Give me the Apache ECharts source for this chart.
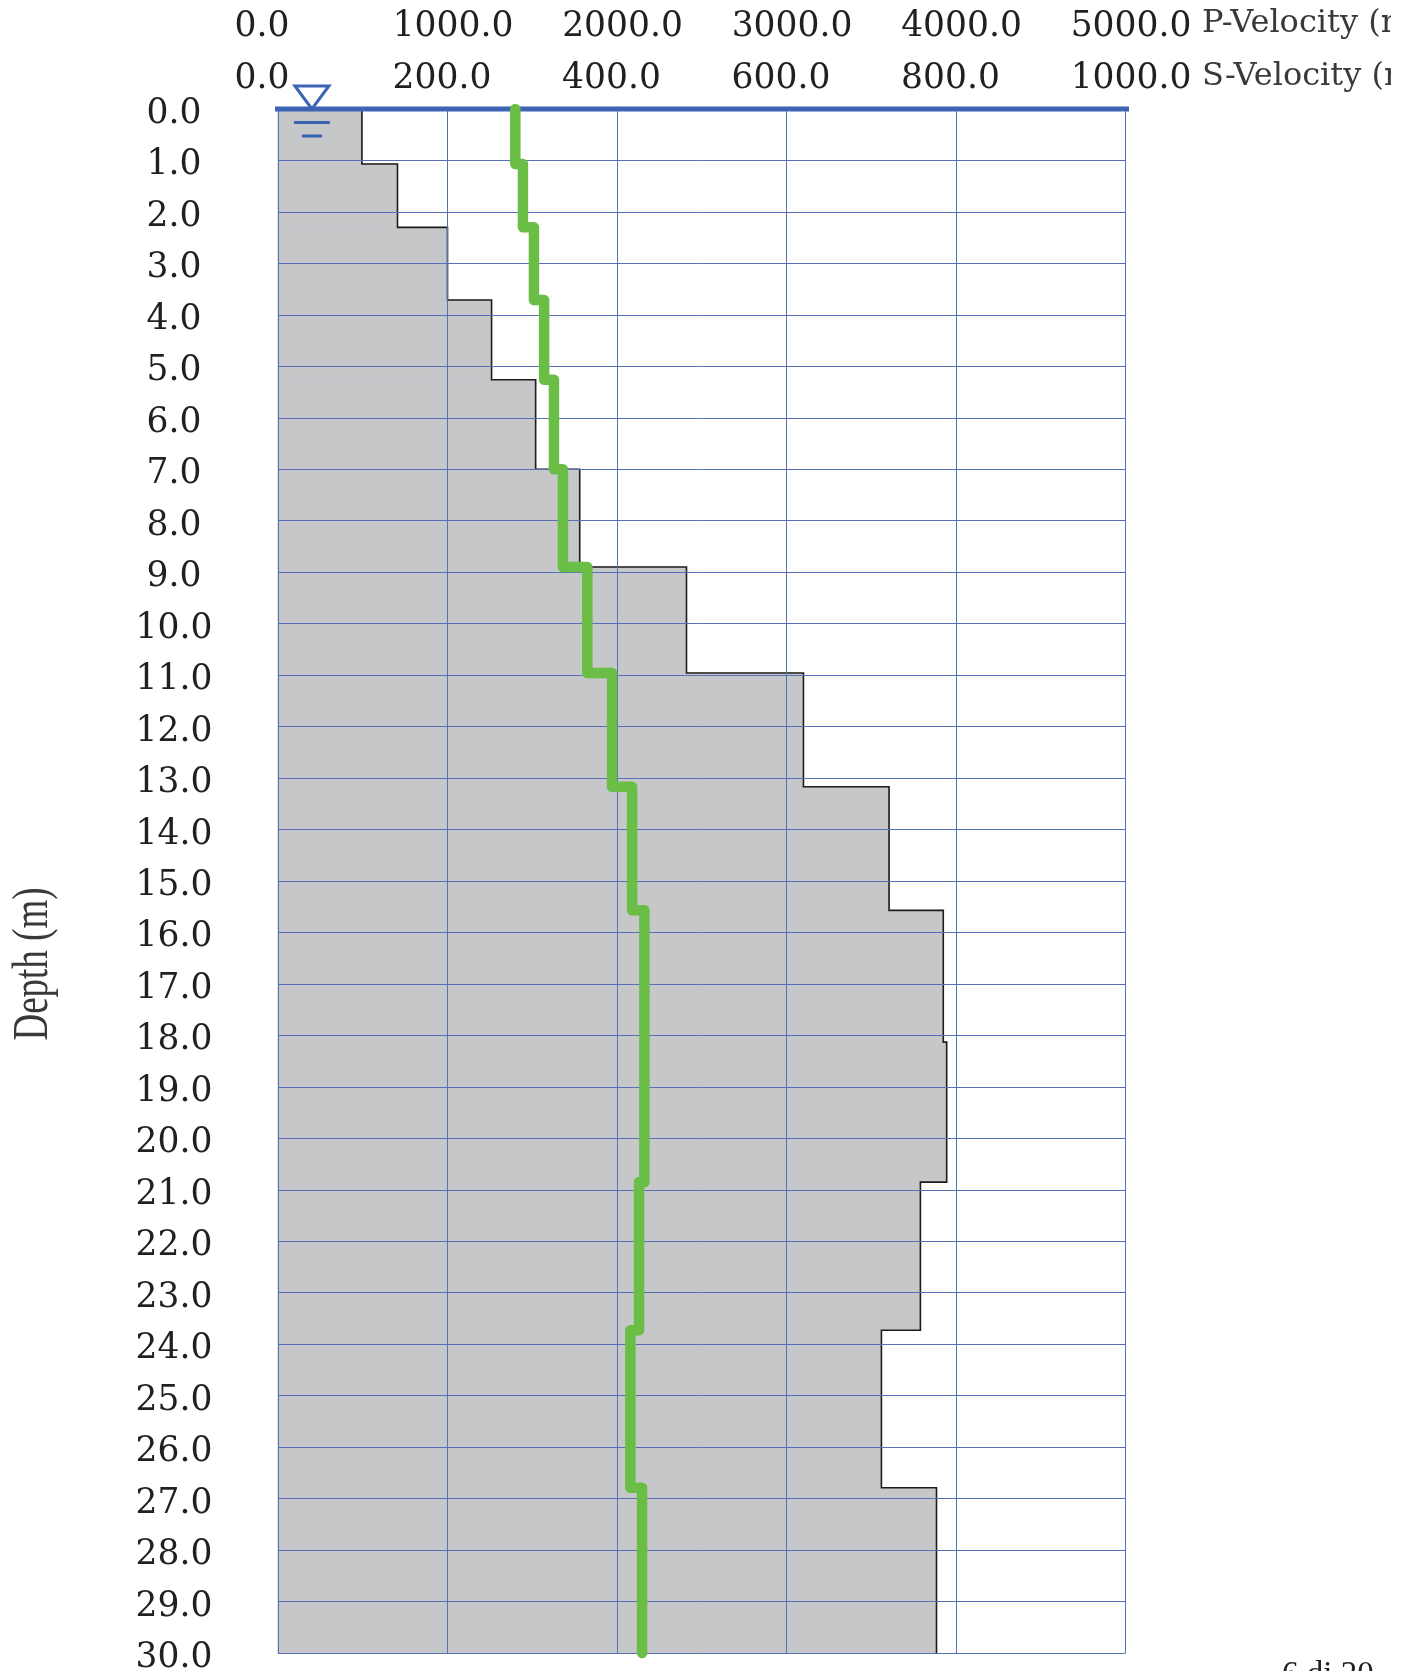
<!DOCTYPE html>
<html><head><meta charset="utf-8">
<style>html,body{margin:0;padding:0;background:#fff}#c{width:1411px;height:1671px}</style>
<script src="https://cdn.jsdelivr.net/npm/echarts@6/dist/echarts.min.js"></script>
</head><body><div id="c"></div>
<script>
// Layer tops (m) and velocities
const sDepths = [0, 1.07, 2.3, 3.71, 5.26, 7.0, 8.9, 10.96, 13.17, 15.57, 18.13, 20.85, 23.73, 26.79, 30];
const sVelocity = [99, 141, 200, 252, 304, 356, 482, 620, 721, 785, 789, 758, 712, 777];
const pDepths = [0, 1.07, 2.3, 3.71, 5.26, 7.0, 8.9, 10.96, 13.17, 15.57, 20.85, 23.73, 26.79, 30];
const pVelocity = [1400, 1445, 1510, 1570, 1628, 1681, 1825, 1971, 2089, 2162, 2130, 2079, 2148];
const waterTable = [[40, 0]];

const SERIF = '"DejaVu Serif"';
const FS = 34.5;
const TXT = '#231f20', BLUE = '#3d63b3', GRID = '#5570b6', GREEN = '#6abd45', GREY = '#c6c7c9';

function steps(depths, vel) {
  const out = [];
  vel.forEach((v, i) => { out.push([v, depths[i]]); out.push([v, depths[i + 1]]); });
  return out;
}
const layers = sVelocity.map((v, i) => [v, sDepths[i], sDepths[i + 1]]);

function xLabel() {
  const base = {fontFamily: SERIF, fontSize: FS, color: TXT};
  return {
    show: true, color: TXT, fontFamily: SERIF, fontSize: FS,
    formatter: v => v === 0 ? '{z|0.0}' : (String(v).length >= 4 ? '{l|' + v.toFixed(1) + '}' : '{s|' + v.toFixed(1) + '}'),
    rich: {
      z: Object.assign({padding: [0, 32, 0, 0]}, base),
      l: Object.assign({padding: [0, 0, 0, 11]}, base),
      s: Object.assign({padding: [0, 11, 0, 0]}, base)
    },
    showMinLabel: true, showMaxLabel: true, hideOverlap: false
  };
}

const option = {
  animation: false,
  backgroundColor: '#fff',
  grid: {left: 278, top: 109, width: 847.5, height: 1544, containLabel: false, outerBoundsMode: 'none'},
  xAxis: [
    {type: 'value', position: 'top', min: 0, max: 5000, interval: 1000,
     axisLine: {show: false}, axisTick: {show: false}, splitLine: {show: false},
     axisLabel: Object.assign(xLabel(), {margin: 64})},
    {type: 'value', position: 'top', min: 0, max: 1000, interval: 200,
     axisLine: {show: false}, axisTick: {show: false},
     splitLine: {show: true, lineStyle: {color: GRID, width: 1}},
     axisLabel: Object.assign(xLabel(), {margin: 12})}
  ],
  yAxis: {
    type: 'value', inverse: true, min: 0, max: 30, interval: 1,
    axisLine: {show: false}, axisTick: {show: false},
    splitLine: {show: true, lineStyle: {color: GRID, width: 1}},
    axisLabel: {color: TXT, fontFamily: SERIF, fontSize: FS, align: 'center', margin: 104,
      formatter: v => '{a|' + v.toFixed(1) + '}',
      rich: {a: {padding: [10, 0, 0, 0], fontFamily: SERIF, fontSize: FS, color: TXT}},
      showMinLabel: true, showMaxLabel: true, hideOverlap: false}
  },
  series: [
    {type: 'custom', name: 'S fill', xAxisIndex: 1, z: -2, data: layers, silent: true,
     encode: {x: 0, y: [1, 2]}, clip: false,
     renderItem: (p, api) => {
       const a = api.coord([0, api.value(1)]), b = api.coord([api.value(0), api.value(2)]);
       return {type: 'rect', shape: {x: a[0], y: a[1], width: b[0] - a[0], height: b[1] - a[1]},
               style: {fill: GREY, stroke: GREY, lineWidth: 1}};
     }},
    {type: 'line', name: 'S-Velocity', xAxisIndex: 1, z: -1, data: steps(sDepths, sVelocity),
     showSymbol: false, symbol: 'none', clip: false, silent: true,
     lineStyle: {color: '#1f1c1d', width: 1.6, join: 'miter'}},
    {type: 'line', name: 'Surface', xAxisIndex: 1, z: 3, data: [[-3, 0], [1003, 0]],
     showSymbol: false, symbol: 'none', clip: false, silent: true,
     lineStyle: {color: BLUE, width: 5, cap: 'round'}},
    {type: 'line', name: 'P-Velocity', xAxisIndex: 0, z: 5, data: steps(pDepths, pVelocity),
     showSymbol: false, symbol: 'none', clip: false, silent: true,
     lineStyle: {color: GREEN, width: 10.5, cap: 'round', join: 'round'}},
    {type: 'custom', name: 'Water table', xAxisIndex: 1, z: 4, data: waterTable, clip: false, silent: true,
     encode: {x: 0, y: 1},
     renderItem: (p, api) => {
       const c = api.coord([api.value(0), api.value(1)]);
       const st = {stroke: BLUE, lineWidth: 3, fill: null};
       return {type: 'group', children: [
         {type: 'polygon', shape: {points: [[c[0] - 17, c[1] - 23], [c[0] + 17, c[1] - 23], [c[0], c[1]]]}, style: st},
         {type: 'line', shape: {x1: c[0] - 18, y1: c[1] + 13.5, x2: c[0] + 18, y2: c[1] + 13.5}, style: st},
         {type: 'line', shape: {x1: c[0] - 10, y1: c[1] + 27, x2: c[0] + 10, y2: c[1] + 27}, style: st}
       ]};
     }}
  ],
  graphic: [
    {type: 'text', z: 10, left: 1202, top: 8, style: {text: 'P-Velocity (m/s)', font: '400 32px ' + SERIF, fill: '#3a3839'}},
    {type: 'text', z: 10, left: 1202, top: 61, style: {text: 'S-Velocity (m/s)', font: '400 32px ' + SERIF, fill: '#3a3839'}},
    {type: 'rect', z: 11, left: 1391, top: 0, shape: {width: 20, height: 100}, style: {fill: '#fff'}},
    {type: 'text', z: 10, left: 1282, top: 1659, style: {text: '6 di 20', font: '400 33px "Liberation Serif"', fill: TXT}},
    {type: 'text', z: 10, x: 34, y: 964, rotation: Math.PI / 2, scaleX: 0.74, scaleY: 1,
     style: {text: 'Depth (m)', font: '400 50px "Liberation Serif"', fill: '#3a3839', align: 'center', verticalAlign: 'middle'}}
  ]
};
const chart = echarts.init(document.getElementById('c'), null, {renderer: 'canvas'});
chart.setOption(option);
</script></body></html>
